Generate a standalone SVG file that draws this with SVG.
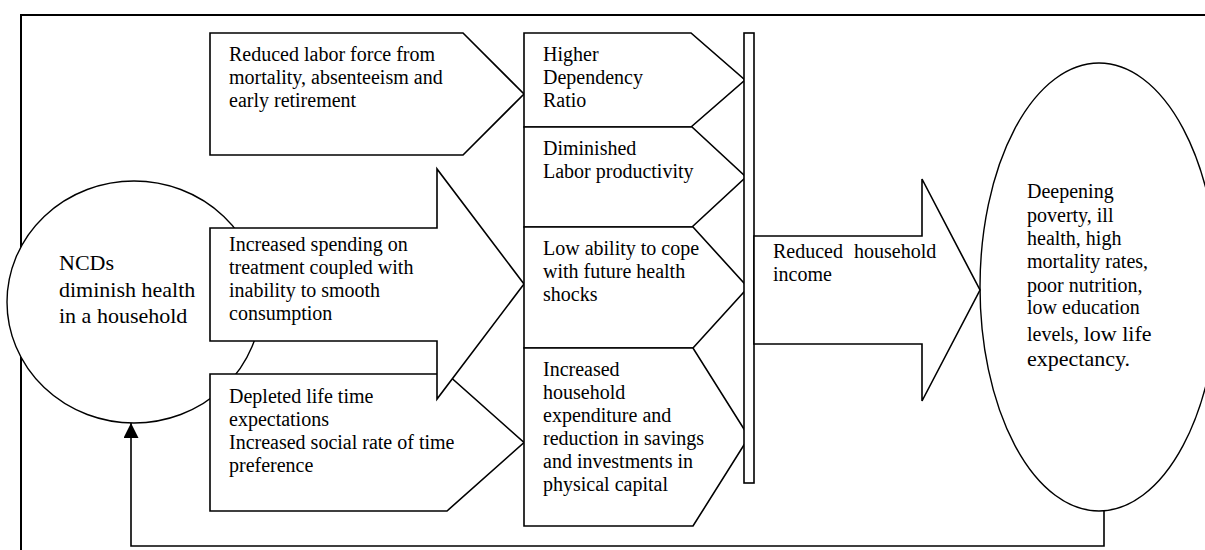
<svg xmlns="http://www.w3.org/2000/svg" width="1205" height="550" viewBox="0 0 1205 550">
<defs>
<style>
.frame{fill:none;stroke:#000;stroke-width:2}
.box{fill:#fff;stroke:#000;stroke-width:1.6;stroke-linejoin:miter}
.oval{fill:#fff;stroke:#000;stroke-width:1.4}
.conn{fill:none;stroke:#000;stroke-width:1.6}
.t{font-family:"Liberation Serif","Times New Roman",serif;font-size:20px;fill:#000}
.big{font-size:22px}
</style>
<marker id="arr" viewBox="0 0 15 15" refX="15" refY="7.5" markerWidth="15" markerHeight="15" markerUnits="userSpaceOnUse" orient="auto">
<path d="M0,0 L15,7.5 L0,15 z" fill="#000"/>
</marker>
</defs>
<rect width="1205" height="550" fill="#fff"/>
<path class="frame" d="M21,552 V15 H1207"/>

<g id="ncds">
<ellipse class="oval" cx="134" cy="302" rx="127" ry="121"/>
<text class="t big"><tspan x="59" y="270">NCDs</tspan><tspan x="59" y="297">diminish health</tspan><tspan x="59" y="323">in a household</tspan></text>
</g>

<g id="reduced-labor">
<polygon class="box" points="210,33 463,33 524,94 463,155 210,155"/>
<text class="t"><tspan x="229" y="61">Reduced labor force from</tspan><tspan x="229" y="84">mortality, absenteeism and</tspan><tspan x="229" y="107">early retirement</tspan></text>
</g>

<g id="depleted">
<polygon class="box" points="210,374 447,374 524,442.5 447,511 210,511"/>
<text class="t"><tspan x="229" y="403">Depleted life time</tspan><tspan x="229" y="426">expectations</tspan><tspan x="229" y="449">Increased social rate of time</tspan><tspan x="229" y="472">preference</tspan></text>
</g>

<g id="spending">
<polygon class="box" points="210,228 437,228 437,169 524,284 437,399 437,341 210,341"/>
<text class="t"><tspan x="229" y="251">Increased spending on</tspan><tspan x="229" y="274">treatment coupled with</tspan><tspan x="229" y="297">inability to smooth</tspan><tspan x="229" y="320">consumption</tspan></text>
</g>

<g id="dependency">
<polygon class="box" points="524,33 691,33 745,80 691,127 524,127"/>
<text class="t"><tspan x="543" y="61">Higher</tspan><tspan x="543" y="84">Dependency</tspan><tspan x="543" y="107">Ratio</tspan></text>
</g>

<g id="productivity">
<polygon class="box" points="524,127 692,127 746,177 692,227 524,227"/>
<text class="t"><tspan x="543" y="155">Diminished</tspan><tspan x="543" y="178">Labor productivity</tspan></text>
</g>

<g id="cope">
<polygon class="box" points="524,227 693,227 748,287.5 693,348 524,348"/>
<text class="t"><tspan x="543" y="255">Low ability to cope</tspan><tspan x="543" y="278">with future health</tspan><tspan x="543" y="301">shocks</tspan></text>
</g>

<g id="expenditure">
<polygon class="box" points="524,348 693,348 749,437 693,526 524,526"/>
<text class="t"><tspan x="543" y="376">Increased</tspan><tspan x="543" y="399">household</tspan><tspan x="543" y="422">expenditure and</tspan><tspan x="543" y="445">reduction in savings</tspan><tspan x="543" y="468">and investments in</tspan><tspan x="543" y="491">physical capital</tspan></text>
</g>

<g id="bar">
<rect class="box" x="744" y="33" width="10" height="450"/>
</g>

<g id="outcome">
<ellipse class="oval" cx="1099" cy="287" rx="119" ry="224"/>
<text class="t"><tspan x="1027" y="198">Deepening</tspan><tspan x="1027" y="222">poverty, ill</tspan><tspan x="1027" y="245">health, high</tspan><tspan x="1027" y="268">mortality rates,</tspan><tspan x="1027" y="292">poor nutrition,</tspan><tspan x="1027" y="314">low education</tspan><tspan x="1027" y="341">levels, <tspan class="big">low life</tspan></tspan><tspan x="1027" y="366" class="big">expectancy.</tspan></text>
</g>

<g id="income">
<polygon class="box" points="754,236 922,236 922,179 980,290 922,401 922,344 754,344"/>
<text class="t"><tspan x="773" y="258">Reduced</tspan><tspan x="854" y="258">household</tspan><tspan x="773" y="281">income</tspan></text>
</g>

<g id="connectors">
<path class="conn" d="M1104,511 V546 H131 V423" marker-end="url(#arr)"/>
</g>
</svg>
